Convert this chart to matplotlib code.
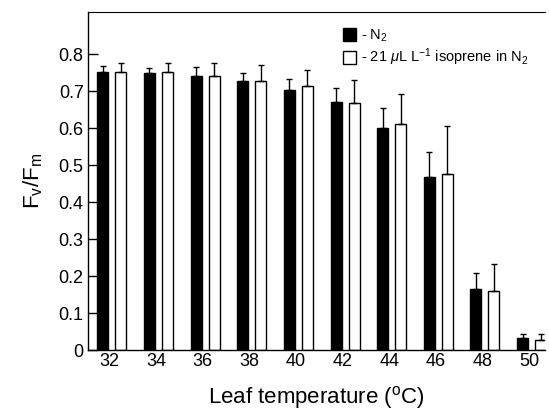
import numpy as np
import matplotlib
matplotlib.use("Agg")
from matplotlib import pyplot as plt
from matplotlib.patches import Patch

plt.rcParams['font.family'] = ['Liberation Sans', 'DejaVu Sans']
plt.rcParams['mathtext.fontset'] = 'custom'
plt.rcParams['mathtext.rm'] = 'Liberation Sans'
plt.rcParams['mathtext.it'] = 'Liberation Sans:italic'

# Data
temps = ['32', '34', '36', '38', '40', '42', '44', '46', '48', '50']
n2_mean = [0.752, 0.748, 0.740, 0.728, 0.703, 0.671, 0.599, 0.468, 0.166, 0.033]
n2_err = [0.016, 0.015, 0.026, 0.022, 0.029, 0.038, 0.056, 0.067, 0.043, 0.012]
iso_mean = [0.753, 0.751, 0.740, 0.728, 0.714, 0.669, 0.610, 0.476, 0.159, 0.028]
iso_err = [0.022, 0.026, 0.036, 0.042, 0.044, 0.061, 0.082, 0.129, 0.075, 0.015]

x = np.arange(len(temps))
w = 0.236
off = 0.193

fig = plt.figure(figsize=(5.49, 4.11), dpi=100)
ax = fig.add_axes([0.160, 0.148, 0.833, 0.823])

err_kw = dict(ecolor='black', elinewidth=1.0, capsize=2.5, capthick=1.0)
ax.bar(x - off, n2_mean, w, color='black', edgecolor='black', linewidth=1.0,
       yerr=[np.zeros(len(x)), n2_err], error_kw=err_kw)
ax.bar(x + off, iso_mean, w, color='white', edgecolor='black', linewidth=1.0,
       yerr=[np.zeros(len(x)), iso_err], error_kw=err_kw)

ax.set_xlim(-0.515, 9.29)
ax.set_ylim(0, 0.914)
ax.set_yticks(np.arange(0, 0.81, 0.1))
ax.set_yticklabels(['0'] + ['%.1f' % v for v in np.arange(0.1, 0.81, 0.1)], fontsize=13)
ax.set_xticks(x - 0.05)
ax.set_xticklabels(temps, fontsize=13)
ax.tick_params(axis='y', direction='in', length=7, width=1, pad=3)
ax.tick_params(axis='x', length=0, pad=2)

ax.spines['right'].set_visible(False)
ax.spines['top'].set_linewidth(0.8)
ax.spines['left'].set_linewidth(1.0)
ax.spines['bottom'].set_linewidth(1.0)

ax.set_ylabel(r'F$_\mathrm{v}$/F$_\mathrm{m}$', fontsize=16, labelpad=10)
ax.set_xlabel(r'Leaf temperature ($^{\mathrm{o}}$C)', fontsize=16, labelpad=10)

handles = [Patch(facecolor='black', edgecolor='black'),
           Patch(facecolor='white', edgecolor='black')]
labels = [r'- N$_2$', r'- 21 $\mu$L L$^{\mathrm{-1}}$ isoprene in N$_2$']
ax.legend(handles, labels, loc='upper left', bbox_to_anchor=(0.535, 0.985),
          frameon=False, fontsize=10.5, handlelength=0.9, handleheight=1.0,
          handletextpad=0.35, labelspacing=0.2, borderpad=0.2)

plt.savefig('out.png', dpi=100)
